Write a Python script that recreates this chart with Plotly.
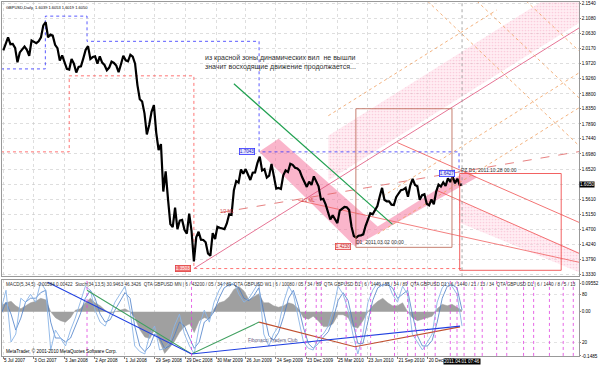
import plotly.graph_objects as go
import pandas as pd

FONT = "Liberation Sans"

# ---------------- price data (weekly closes) ----------------
week_dates = pd.date_range("2007-07-06", "2011-04-01", freq="W-FRI")
close_2007 = [2.0120, 2.0310, 2.0520, 2.0310, 2.0320, 2.0200, 1.9760, 2.0060, 2.0160,
              2.0240, 2.0140, 1.9960, 2.0420, 2.0390, 2.0340, 2.0400, 2.0520,
              2.0880, 2.0980, 2.0520, 2.0600, 2.0570, 2.0290, 2.0190, 1.9810, 1.9970]
close_2008 = [1.9760, 1.9560, 1.9540, 1.9860, 1.9720, 1.9450, 1.9620, 1.9640, 1.9880,
              2.0140, 2.0250, 1.9860, 1.9920, 1.9940, 1.9720, 1.9940, 1.9750,
              1.9680, 1.9520, 1.9600, 1.9780, 1.9740, 1.9660, 1.9460, 1.9700, 1.9960,
              1.9820, 1.9790, 1.9990, 1.9930, 1.9720, 1.9070, 1.8640, 1.8570, 1.8210,
              1.7570, 1.7860, 1.8260, 1.8460, 1.7620, 1.7100, 1.7280, 1.5840, 1.6450,
              1.5610, 1.4850, 1.4760, 1.5350, 1.4700, 1.4960, 1.4980, 1.4680]
close_2009 = [1.4560, 1.5170, 1.4650, 1.3720, 1.4450, 1.4620, 1.4380, 1.4370, 1.4300,
              1.3960, 1.3890, 1.4580, 1.4400, 1.4770, 1.4740, 1.4720, 1.4700,
              1.4870, 1.5150, 1.5130, 1.5880, 1.6160, 1.6110, 1.6510, 1.6380, 1.6520,
              1.6360, 1.6190, 1.6410, 1.6420, 1.6700, 1.6900, 1.6480, 1.6520, 1.6260,
              1.6320, 1.6680, 1.6350, 1.5930, 1.5950, 1.5920, 1.6330, 1.6480, 1.6430,
              1.6680, 1.6650, 1.6560, 1.6540, 1.6470, 1.6280, 1.6150, 1.5980]
close_2010 = [1.6140, 1.6040, 1.6300, 1.6140, 1.6000, 1.5600, 1.5620, 1.5450, 1.5220,
              1.4990, 1.5120, 1.5000, 1.4880, 1.5260, 1.5330, 1.5370, 1.5360, 1.5280,
              1.4780, 1.4490, 1.4440, 1.4500, 1.4510, 1.4540, 1.4800, 1.5010,
              1.5180, 1.5150, 1.5290, 1.5400, 1.5690, 1.5950, 1.5590, 1.5540, 1.5540,
              1.5440, 1.5430, 1.5670, 1.5780, 1.5880, 1.5900, 1.5950, 1.5680, 1.6030,
              1.6220, 1.6040, 1.6000, 1.5590, 1.5730, 1.5760, 1.5470, 1.5420, 1.5600]
close_2011 = [1.5450, 1.5840, 1.6050, 1.5990, 1.6120, 1.6010, 1.6240, 1.6130,
              1.6290, 1.6090, 1.6230, 1.6040, 1.6050]
closes = close_2007 + close_2008 + close_2009 + close_2010 + close_2011

# ---------------- axes ----------------
x_tick_dates = ["2007-07-05", "2007-10-03", "2008-01-03", "2008-04-02", "2008-07-01",
                "2008-09-29", "2008-12-29", "2009-03-30", "2009-06-26", "2009-09-24",
                "2009-12-23", "2010-03-25", "2010-06-23", "2010-09-21", "2010-12-20"]
x_tick_text = ["5 Jul 2007", "3 Oct 2007", "3 Jan 2008", "2 Apr 2008", "1 Jul 2008",
               "29 Sep 2008", "29 Dec 2008", "30 Mar 2009", "26 Jun 2009", "24 Sep 2009",
               "23 Dec 2009", "25 Mar 2010", "23 Jun 2010", "21 Sep 2010", "20 Dec 2010"]
x_range = ["2007-07-02", "2012-03-14"]
price_ticks = [2.1540, 2.1080, 2.0630, 2.0170, 1.9720, 1.9260, 1.8800, 1.8350, 1.7890,
               1.7440, 1.6980, 1.6520, 1.6065, 1.5610, 1.5150, 1.4700, 1.4240, 1.3790, 1.3330]
price_range = [1.327, 2.159]
last_price = 1.6050

# ---------------- indicator window (sampled) ----------------
sub_dates = ["2007-06-29", "2007-07-14", "2007-07-29", "2007-08-12", "2007-08-27", "2007-09-10",
             "2007-09-25", "2007-10-10", "2007-10-25", "2007-11-09", "2007-11-24", "2007-12-08",
             "2007-12-23", "2008-01-07", "2008-01-22", "2008-02-05", "2008-02-20", "2008-03-06",
             "2008-03-21", "2008-04-04", "2008-04-19", "2008-05-04", "2008-05-19", "2008-06-02",
             "2008-06-17", "2008-07-02", "2008-07-17", "2008-07-31", "2008-08-15", "2008-08-30",
             "2008-09-14", "2008-09-28", "2008-10-13", "2008-10-28", "2008-11-12", "2008-11-26",
             "2008-12-11", "2008-12-26", "2009-01-10", "2009-01-24", "2009-02-08", "2009-02-23",
             "2009-03-10", "2009-03-24", "2009-04-08", "2009-04-23", "2009-05-08", "2009-05-22",
             "2009-06-06", "2009-06-21", "2009-07-06", "2009-07-20", "2009-08-04", "2009-08-19",
             "2009-09-03", "2009-09-17", "2009-10-02", "2009-10-17", "2009-11-01", "2009-11-15",
             "2009-11-30", "2009-12-15", "2009-12-30", "2010-01-13", "2010-01-28", "2010-02-12",
             "2010-02-27", "2010-03-13", "2010-03-28", "2010-04-12", "2010-04-27", "2010-05-11",
             "2010-05-26", "2010-06-10", "2010-06-25", "2010-07-09", "2010-07-24", "2010-08-08",
             "2010-08-23", "2010-09-06", "2010-09-21", "2010-10-06", "2010-10-21", "2010-11-04",
             "2010-11-19", "2010-12-04", "2010-12-19", "2011-01-02", "2011-01-17", "2011-02-01",
             "2011-02-16", "2011-03-02", "2011-03-17", "2011-04-01"]
macd_hist = [0.02, 0.03, 0.035, 0.02, 0.01, 0.02, 0.03, 0.035, 0.045, 0.04,
             0.0, -0.02, -0.03, -0.035, -0.02, 0.005, 0.01, 0.03, 0.045, 0.03,
             0.02, 0.005, -0.005, 0.0, 0.005, 0.01, 0.0, -0.02, -0.06, -0.085,
             -0.09, -0.06, -0.1, -0.14, -0.12, -0.1, -0.07, -0.05, -0.04, -0.07,
             -0.03, -0.02, -0.025, 0.01, 0.03, 0.035, 0.05, 0.075, 0.085, 0.07,
             0.04, 0.05, 0.06, 0.03, 0.03, 0.02, 0.015, 0.02, 0.03, 0.025,
             0.01, -0.02, -0.025, -0.015, -0.03, -0.05, -0.05, -0.04, -0.01, -0.01,
             -0.02, -0.05, -0.055, -0.03, 0.0, 0.02, 0.035, 0.045, 0.03, 0.02,
             0.02, 0.03, 0.0, -0.02, -0.03, -0.025, -0.02, -0.015, 0.01, 0.025,
             0.02, 0.025, 0.015, 0.004]
stoch_main = [60, 85, 20, 30, 75, 70, 80, 70, 95, 85,
              10, 35, 25, 15, 35, 50, 70, 90, 85, 60,
              45, 40, 55, 70, 80, 90, 60, 15, 8, 5,
              30, 40, 10, 12, 20, 40, 55, 30, 15, 5,
              40, 60, 45, 70, 85, 95, 90, 95, 80, 70,
              75, 85, 95, 30, 15, 30, 40, 70, 90, 80,
              50, 20, 12, 10, 25, 30, 40, 60, 90, 80,
              60, 30, 5, 30, 70, 85, 95, 90, 95, 80,
              70, 90, 80, 30, 20, 10, 20, 30, 70, 88,
              95, 90, 80, 40]
stoch_signal = [55, 70, 55, 35, 50, 70, 75, 75, 82, 85,
                45, 25, 25, 20, 25, 40, 55, 75, 85, 75,
                55, 45, 48, 60, 72, 82, 75, 40, 15, 8,
                15, 30, 25, 12, 15, 28, 45, 40, 25, 12,
                20, 45, 50, 58, 75, 88, 92, 92, 88, 75,
                72, 78, 88, 60, 28, 22, 32, 52, 75, 85,
                65, 38, 18, 12, 18, 26, 33, 48, 72, 82,
                72, 45, 18, 18, 45, 72, 88, 92, 92, 88,
                75, 80, 85, 55, 28, 15, 15, 22, 45, 75,
                90, 92, 88, 60]
macd_range = [-0.14855, 0.1055]
stoch_range = [2.5, 97.5]
cycle_dates = ["2008-03-11", "2009-01-16", "2009-12-21", "2010-01-22", "2010-02-06", "2010-04-21",
               "2010-05-20", "2010-06-04", "2010-07-03", "2010-09-12", "2010-10-21", "2010-11-13",
               "2010-12-10", "2011-01-11", "2011-02-25", "2011-03-17", "2011-04-07", "2011-05-09",
               "2011-05-31", "2011-07-13", "2011-08-12", "2011-10-01", "2011-10-31", "2011-12-17",
               "2012-01-27", "2012-02-26"]
sub_blue_x = ["2007-11-15", "2009-01-16", "2011-03-26"]
sub_blue_y = [95, 5, 40]
sub_red_x = ["2009-08-05", "2010-05-17", "2011-03-26"]
sub_red_y = [45, 14, 39]
sub_green_x = ["2008-03-11", "2009-01-16", "2009-08-05"]
sub_green_y = [85, 5, 45]

# ---------------- drawings on the price chart ----------------
red_dotted_x = ["2007-06-29", "2008-01-18", "2008-01-18", "2009-01-23", "2009-01-23", "2011-04-01"]
red_dotted_y = [1.7043, 1.7043, 1.935, 1.935, 1.3503, 1.3503]
blue_dotted_x = ["2007-06-29", "2007-11-08", "2007-11-08", "2008-03-11", "2008-03-11",
                 "2009-08-05", "2009-08-05", "2011-03-23", "2011-03-23"]
blue_dotted_y = [1.956, 1.956, 2.1161, 2.1161, 2.0397, 2.0397, 1.7043, 1.7043, 1.6427]
down_band_x = ["2009-08-05", "2009-10-02", "2010-07-24", "2010-05-17"]
down_band_y = [1.7043, 1.7444, 1.4782, 1.4177]
up_band_x = ["2010-05-17", "2010-07-24", "2011-04-16", "2011-05-15"]
up_band_y = [1.4177, 1.4782, 1.6476, 1.6264]
top_band_x = ["2010-02-27", "2012-03-14", "2012-03-14", "2010-02-27"]
top_band_y = [1.6174, 2.0953, 2.2314, 1.7535]
fcst_band_x = ["2011-03-23", "2012-03-14", "2012-03-14", "2011-03-23"]
fcst_band_y = [1.5569, 1.3995, 1.3391, 1.4904]
green_x = ["2009-05-22", "2010-09-06"]
green_y = [1.9108, 1.4843]
brown_box = dict(x=["2010-05-20", "2011-03-02"], y=[1.4147, 1.8352])
red_box = dict(x=["2011-03-25", "2012-01-21"], y=[1.345, 1.6387])
solid_lines = [  # (dates, prices, colour, dash)
    (["2009-01-23", "2012-03-14"], [1.3503, 2.0802], "#e0507a", "solid"),
    (["2010-09-21", "2012-03-14"], [1.7323, 1.4904], "#f05050", "solid"),
    (["2011-01-17", "2012-03-14"], [1.5871, 1.3965], "#f05050", "solid"),
    (["2009-11-30", "2012-03-14"], [1.5569, 1.3694], "#f06060", "solid"),
    (["2009-04-14", "2012-03-14"], [1.5206, 1.7051], "#e06060", "dash"),
    (["2010-07-24", "2012-03-14"], [1.5599, 1.9440], "#f0a060", "dot"),
    (["2010-07-24", "2012-03-14"], [1.4555, 1.8382], "#f0a060", "dot"),
    (["2010-02-27", "2011-07-13"], [1.8140, 2.1346], "#f0a060", "dot"),
    (["2011-05-15", "2012-03-14"], [2.1619, 1.8684], "#f0a060", "dot"),
    (["2010-12-19", "2012-03-14"], [2.1619, 1.7232], "#f0a060", "dot"),
    (["2011-10-09", "2012-03-14"], [2.1619, 2.0106], "#f0a060", "dot"),
]

fig = go.Figure()

def add_poly(xs, ys, color, pattern=None):
    kw = dict(fillpattern=pattern) if pattern else {}
    fig.add_trace(go.Scatter(x=xs, y=ys, fill="toself", fillcolor=color, mode="lines",
                             line=dict(width=0), hoverinfo="skip", showlegend=False, **kw))

dots = dict(shape=".", fgcolor="rgba(240,120,160,0.55)", bgcolor="rgba(255,215,228,0.45)",
            size=3, solidity=0.25)
add_poly(top_band_x, top_band_y, "rgba(255,200,215,0.3)", dots)
add_poly(fcst_band_x, fcst_band_y, "rgba(255,200,215,0.3)", dots)
add_poly(down_band_x, down_band_y, "rgba(245,120,160,0.55)")
add_poly(up_band_x, up_band_y, "rgba(245,120,160,0.55)")

for xs, ys, col, dash in solid_lines:
    fig.add_trace(go.Scatter(x=xs, y=ys, mode="lines", line=dict(color=col, width=0.8, dash=dash),
                             hoverinfo="skip", showlegend=False))

fig.add_trace(go.Scatter(x=red_dotted_x, y=red_dotted_y, mode="lines",
                         line=dict(color="#ff5050", width=0.8, dash="dot"), showlegend=False))
fig.add_trace(go.Scatter(x=blue_dotted_x, y=blue_dotted_y, mode="lines",
                         line=dict(color="#3030ff", width=0.8, dash="dot"), showlegend=False))
fig.add_trace(go.Scatter(x=green_x, y=green_y, mode="lines",
                         line=dict(color="#20a050", width=1.2), showlegend=False))

fig.add_trace(go.Scatter(x=week_dates, y=closes, mode="lines",
                         line=dict(color="black", width=2.2), showlegend=False))

# indicator window
fig.add_trace(go.Scatter(x=sub_dates, y=macd_hist, mode="lines", fill="tozeroy",
                         fillcolor="#a0a0a0", line=dict(color="#a0a0a0", width=0.5),
                         xaxis="x2", yaxis="y2", showlegend=False))
fig.add_trace(go.Scatter(x=sub_dates, y=stoch_signal, mode="lines",
                         line=dict(color="#4a7ec8", width=0.8), xaxis="x2", yaxis="y3", showlegend=False))
fig.add_trace(go.Scatter(x=sub_dates, y=stoch_main, mode="lines",
                         line=dict(color="#8ab4e6", width=0.9), xaxis="x2", yaxis="y3", showlegend=False))
for xs, ys, col in [(sub_red_x, sub_red_y, "#c05030"), (sub_green_x, sub_green_y, "#40a060"),
                    (sub_blue_x, sub_blue_y, "#2040e0")]:
    fig.add_trace(go.Scatter(x=xs, y=ys, mode="lines", line=dict(color=col, width=1.1),
                             xaxis="x2", yaxis="y3", showlegend=False))

shapes = []
for d in cycle_dates:
    shapes.append(dict(type="line", xref="x2", yref="y2 domain", x0=d, x1=d, y0=0, y1=1,
                       line=dict(color="#e040e0", width=0.8, dash="dot")))
shapes.append(dict(type="line", xref="x", yref="y domain", x0="2011-04-01", x1="2011-04-01",
                   y0=0, y1=1, line=dict(color="#909090", width=0.8, dash="dot")))
shapes.append(dict(type="rect", xref="x", yref="y", x0=brown_box["x"][0], x1=brown_box["x"][1],
                   y0=brown_box["y"][0], y1=brown_box["y"][1], line=dict(color="#c07060", width=0.9)))
shapes.append(dict(type="rect", xref="x", yref="y", x0=red_box["x"][0], x1=red_box["x"][1],
                   y0=red_box["y"][0], y1=red_box["y"][1], line=dict(color="#f05050", width=0.9)))

small = dict(family=FONT, size=4.6, color="black")
ann = []
def box(x, y, text, fg, bg, border):
    ann.append(dict(x=x, y=y, xref="x", yref="y", text=text, showarrow=False,
                    font=dict(family=FONT, size=4.6, color=fg), bgcolor=bg, bordercolor=border,
                    borderwidth=0.8, borderpad=0))
box("2009-06-30", 1.7043, "1.7043", "#2020c0", "#e6e6ff", "#3030ff")
box("2008-12-23", 1.3503, "1.3503", "white", "#f07070", "#e04040")
box("2010-04-12", 1.4177, "1.4230", "#c02020", "#ffe0e0", "#e04040")
box("2011-02-16", 1.6387, "1.6427", "#2020c0", "#e6e6ff", "#3030ff")
ann.append(dict(x="2010-05-14", y=1.4298, xref="x", yref="y", xanchor="left", showarrow=False,
                text="D1  2011.03.02 00:00", font=dict(family=FONT, size=5, color="#303030")))
ann.append(dict(x="2011-03-23", y=1.6506, xref="x", yref="y", xanchor="left", showarrow=False,
                text="PZ D1  2011.10.28 00:00", font=dict(family=FONT, size=5, color="#303030")))
ann.append(dict(x="2009-05-01", y=1.5236, xref="x", yref="y", showarrow=False,
                text="1/2 ML", font=dict(family=FONT, size=4.5, color="#d04040")))
ann.append(dict(x="2009-12-30", y=1.5569, xref="x", yref="y", showarrow=False,
                text="1/2 ML", font=dict(family=FONT, size=4.5, color="#d04040")))
ann.append(dict(x="2009-02-20", y=1.9894, xref="x", yref="y", xanchor="left", showarrow=False,
                text="из красной зоны динамических вил  не вышли",
                font=dict(family=FONT, size=7, color="#303030")))
ann.append(dict(x="2009-02-20", y=1.9622, xref="x", yref="y", xanchor="left", showarrow=False,
                text="значит восходящие движение продолжается...",
                font=dict(family=FONT, size=7, color="#303030")))
ann.append(dict(x=0.004, y=0.997, xref="paper", yref="paper", xanchor="left", yanchor="top",
                showarrow=False, text="GBPUSD,Daily  1.6039 1.6053 1.6019 1.6050",
                font=dict(family=FONT, size=4, color="black")))
ann.append(dict(x=1.0, y=last_price, xref="paper", yref="y", xanchor="left", showarrow=False,
                text="1.6050", bgcolor="black", font=dict(family=FONT, size=4.6, color="white"),
                borderpad=0))
ann.append(dict(x=0.004, y=1.0, xref="paper", yref="y2 domain", xanchor="left", yanchor="top",
                showarrow=False,
                text="MACD(5,34,5) -0.00584 0.00422  Stoch(34,13,5) 30.9463 46.3426  QTA GBPUSD MN | 6 / 43200 / 05 / 34 / 89  "
                     "QTA GBPUSD W1 | 6 / 10080 / 05 / 34 / 89  QTA GBPUSD D1 | 6 / 1440 / 55 / 34 / 89  "
                     "QTA GBPUSD D1 | 6 / 1440 / 21 / 13 / 34  QTA GBPUSD D1 | 6 / 1440 / 8 / 5 / 13",
                font=dict(family=FONT, size=4.6, color="#303030")))
ann.append(dict(x=0.004, y=0.0, xref="paper", yref="y2 domain", xanchor="left", yanchor="bottom",
                showarrow=False, text="MetaTrader, © 2001-2010 MetaQuotes Software Corp.",
                font=dict(family=FONT, size=4.6, color="black")))
ann.append(dict(x="2009-06-27", y=22.5, xref="x2", yref="y3", xanchor="left", showarrow=False,
                text="Fibonacci Traders Club", font=dict(family=FONT, size=4.8, color="#606080")))
ann.append(dict(x="2011-04-01", y=-0.004, xref="x2", yref="paper", yanchor="top", showarrow=False,
                text="2011.04.01 07:46", bgcolor="black", font=dict(family=FONT, size=4.6, color="white"),
                borderpad=0))

grid = dict(showgrid=True, gridcolor="#c8c8c8", griddash="dot", gridwidth=0.6)
axline = dict(showline=True, linecolor="#808080", linewidth=0.8, mirror=True, zeroline=False)
yt = dict(ticks="outside", ticklen=1, tickcolor="#808080", tickfont=small, ticklabelstandoff=0)
fig.update_layout(
    width=600, height=367, margin=dict(l=1, r=17, t=1, b=10),
    paper_bgcolor="white", plot_bgcolor="white", showlegend=False,
    shapes=shapes, annotations=ann,
    xaxis=dict(domain=[0, 1], anchor="y", type="date", range=x_range, tickvals=x_tick_dates,
               showticklabels=False, ticks="", matches="x2", **grid, **axline),
    xaxis2=dict(domain=[0, 1], anchor="y2", type="date", range=x_range, tickvals=x_tick_dates,
                ticktext=x_tick_text, ticks="outside", ticklen=2, tickcolor="#808080", tickangle=0,
                ticklabelposition="outside right", tickfont=dict(family=FONT, size=4.6, color="black"),
                **grid, **axline),
    yaxis=dict(domain=[0.2275, 1], anchor="x", side="right", range=price_range,
               tickvals=price_ticks, ticktext=["" if abs(v - 1.6065) < 1e-6 else f"{v:.4f}" for v in price_ticks],
               **yt, **grid, **axline),
    yaxis2=dict(domain=[0.003, 0.216], anchor="x2", side="right", range=macd_range,
                tickvals=[0.09552, 0.0, -0.14855], ticktext=["0.09552", "0.00", "-0.1485"],
                showgrid=False, **yt, **axline),
    yaxis3=dict(overlaying="y2", anchor="x2", side="right", range=stoch_range,
                tickvals=[20, 80], ticktext=["20", "80"], **yt,
                showgrid=True, gridcolor="#d0d0d0", griddash="dot", gridwidth=0.6, zeroline=False),
)
fig.write_html("out.html", config={"displayModeBar": False, "staticPlot": True},
               post_script="document.body.style.margin='0';document.body.style.overflow='hidden';")
